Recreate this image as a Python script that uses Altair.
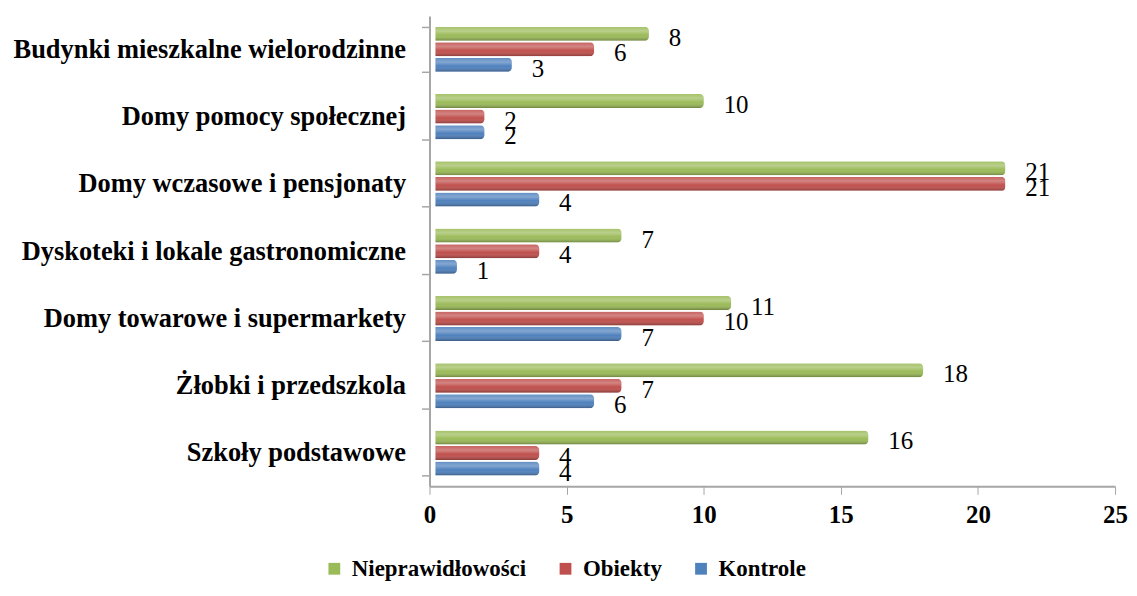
import altair as alt
import pandas as pd

categories = [
    "Budynki mieszkalne wielorodzinne",
    "Domy pomocy społecznej",
    "Domy wczasowe i pensjonaty",
    "Dyskoteki i lokale gastronomiczne",
    "Domy towarowe i supermarkety",
    "Żłobki i przedszkola",
    "Szkoły podstawowe",
]
series = ["Nieprawidłowości", "Obiekty", "Kontrole"]
nieprawidlowosci = [8, 10, 21, 7, 11, 18, 16]
obiekty = [6, 2, 21, 4, 10, 7, 4]
kontrole = [3, 2, 4, 1, 7, 6, 4]
colors = ["#9BBB59", "#C0504D", "#4F81BD"]

rows = []
for i, c in enumerate(categories):
    for s, vals in zip(series, [nieprawidlowosci, obiekty, kontrole]):
        rows.append({"Kategoria": c, "Seria": s, "Wartość": vals[i]})
df = pd.DataFrame(rows)

font = "Liberation Serif"

y_enc = alt.Y("Kategoria:N", sort=categories,
              scale=alt.Scale(paddingInner=0.33, paddingOuter=0.16),
              axis=alt.Axis(title=None, labelFont=font, labelFontSize=26.5,
                            labelFontWeight="bold", labelColor="black",
                            labelPadding=16, domainColor="#A6A6A6",
                            tickColor="#A6A6A6", tickSize=8, domainWidth=2,
                            tickWidth=1.5, tickBand="extent", labelLimit=600))
yoff = alt.YOffset("Seria:N", sort=series,
                   scale=alt.Scale(domain=series, paddingInner=0.1))
x_scale = alt.Scale(domain=[0, 25], nice=False)
x_enc = alt.X("Wartość:Q", scale=x_scale,
              axis=alt.Axis(title=None, values=[0, 5, 10, 15, 20, 25],
                            labelFont=font, labelFontSize=25,
                            labelFontWeight="bold", labelColor="black",
                            labelFlush=False,
                            domainColor="#A6A6A6", tickColor="#A6A6A6",
                            domainWidth=2, tickSize=8, labelPadding=8,
                            grid=False))

base = alt.Chart(df)

bars = base.mark_bar(cornerRadiusEnd=4, xOffset=6).encode(
    y=y_enc, yOffset=yoff, x=x_enc,
    color=alt.Color("Seria:N", sort=series,
                    scale=alt.Scale(domain=series, range=colors),
                    legend=alt.Legend(title=None, orient="none",
                                      legendX=-107, legendY=543,
                                      direction="horizontal",
                                      symbolType="square", symbolSize=140,
                                      labelFont=font, labelFontSize=23,
                                      labelFontWeight="bold",
                                      labelColor="black", columnPadding=27,
                                      labelOffset=6, labelLimit=400,
                                      symbolStrokeWidth=0)),
)

shade = base.mark_bar(
    cornerRadiusEnd=4, xOffset=6,
    fill=alt.Gradient(
        gradient="linear", x1=0, x2=0, y1=0, y2=1,
        stops=[
            alt.GradientStop(offset=0, color="rgba(255,255,255,0.1)"),
            alt.GradientStop(offset=0.3, color="rgba(255,255,255,0.3)"),
            alt.GradientStop(offset=0.6, color="rgba(255,255,255,0.0)"),
            alt.GradientStop(offset=1, color="rgba(0,0,0,0.3)"),
        ],
    ),
).encode(y=alt.Y("Kategoria:N", sort=categories), yOffset=yoff,
         x=alt.X("Wartość:Q", scale=x_scale))

labels = base.mark_text(align="left", baseline="middle", dx=20, dy=4,
                        font=font, fontSize=25, color="black").encode(
    y=alt.Y("Kategoria:N", sort=categories), yOffset=yoff,
    x=alt.X("Wartość:Q", scale=x_scale),
    text="Wartość:Q",
)

chart = (bars + shade + labels).properties(
    width=688, height=472,
    autosize=alt.AutoSizeParams(type="none"),
    padding={"left": 423, "top": 7, "right": 14, "bottom": 95},
).configure(background="white").configure_view(stroke=None)

chart.save("out.html", embed_options={"renderer": "svg", "actions": False})
